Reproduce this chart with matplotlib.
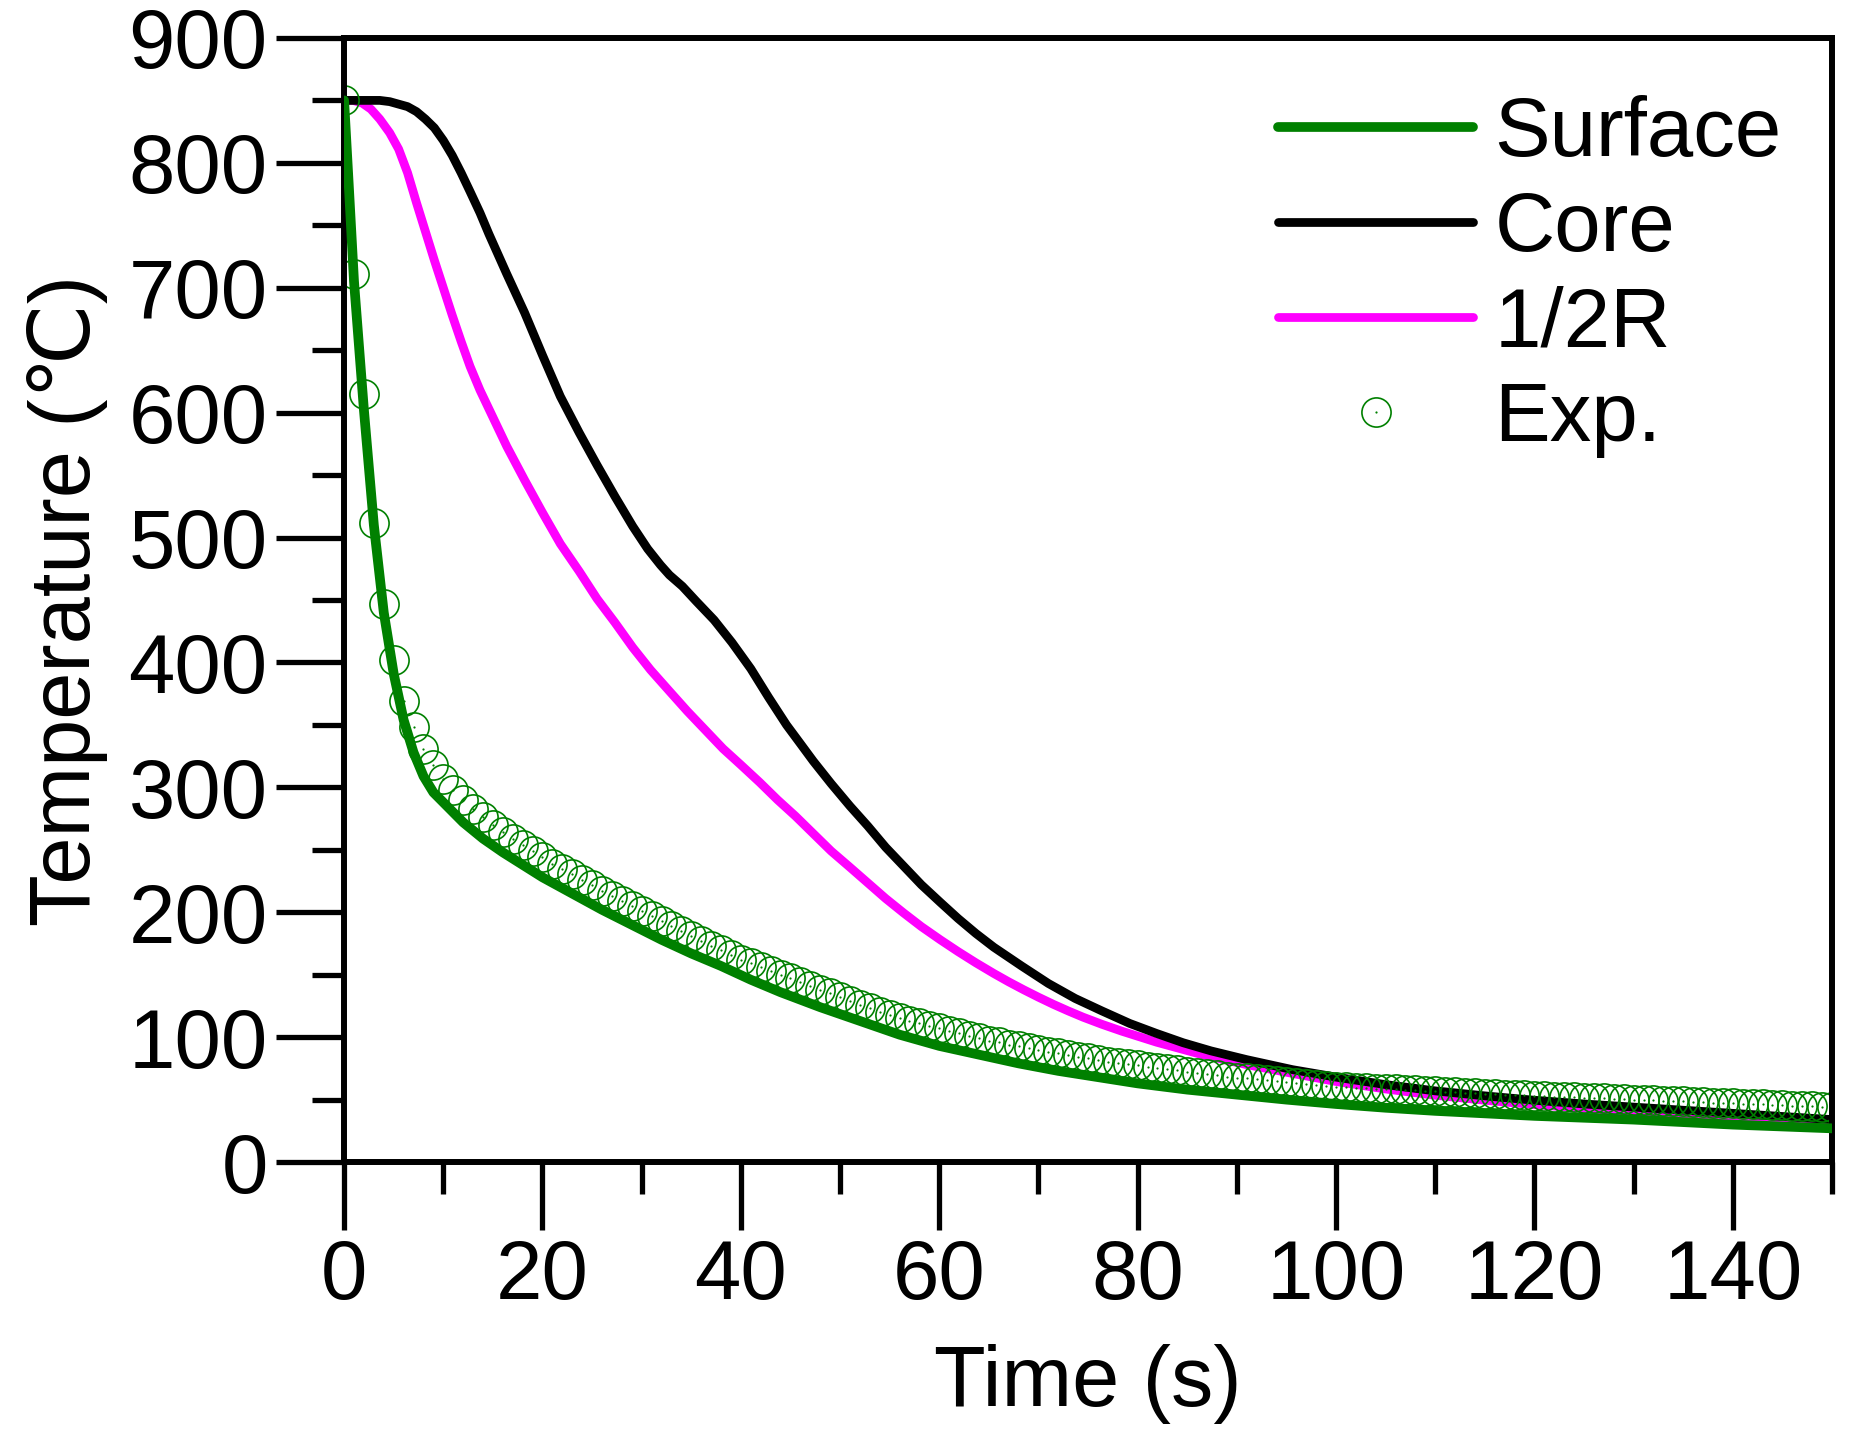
import numpy as np
import matplotlib
matplotlib.use("Agg")
import matplotlib.pyplot as plt
from matplotlib.ticker import MultipleLocator

plt.rcParams['font.family'] = ['Liberation Sans', 'DejaVu Sans']

# ---------------- data ----------------
surface_t = [0, 0.5, 1, 2, 3, 4, 5, 6, 7, 8, 9, 10, 12, 14, 16, 18, 20, 23, 26, 29, 32,
             35, 38, 41, 44, 48, 52, 56, 60, 64, 68, 72, 76, 80, 85, 90, 95, 100, 105,
             110, 115, 120, 125, 130, 135, 140, 145, 150]
surface_T = [850, 778, 705, 602, 510, 440, 391, 354, 328, 309, 296, 288, 272, 259, 248,
             238, 228, 215, 202, 190, 178, 167, 157, 146, 136, 124, 113, 102, 93, 86,
             79, 73, 68, 63, 58, 54, 50, 46.5, 43.5, 41, 39, 37, 35.5, 34, 32, 30, 28.5, 27]

core_t = [0, 1.8, 3.6, 4.6, 5.5, 6.4, 7.3, 8.2, 9.1, 10, 10.9, 11.8, 12.7, 13.7, 14.6,
          15.5, 16.4, 18.2, 20, 21.8, 23.7, 25.5, 27.3, 29.1, 30.6, 31.9, 32.8, 34.1,
          35.5, 37.3, 39.1, 41, 42.8, 44.6, 46, 47.3, 49.1, 51, 52.8, 54.6, 56.4, 58.2,
          60.1, 61.9, 63.7, 65.5, 68.3, 71, 73.7, 76.4, 79.2, 81.9, 84.6, 87.4, 91, 95.6,
          100, 105, 110, 115, 120, 125, 130, 135, 140, 145, 150]
core_T = [850, 850, 850, 849, 847, 845, 841, 835, 828, 818, 806, 792, 777, 760, 743, 727,
          711, 680, 646, 613, 584, 558, 533, 509, 491, 478, 470, 461, 449, 434, 416, 395,
          372, 350, 335, 321, 303, 285, 269, 252, 237, 222, 208, 195, 183, 172, 157, 143,
          131, 121, 111, 103, 95.5, 89, 82, 74, 68, 62, 57, 53, 49.5, 46.5, 44, 41.5, 39,
          36.5, 34]

half_t = [0, 0.9, 1.8, 2.7, 3.6, 4.6, 5.5, 6.4, 7.3, 8.2, 9.1, 10, 10.9, 11.8, 12.7, 13.7,
          14.6, 16.4, 18.2, 20, 21.8, 23.7, 25.5, 27.3, 29.1, 30.9, 32.8, 34.6, 36.4,
          38.2, 40, 41.9, 43.7, 45.5, 47.3, 49.1, 51, 52.8, 54.6, 56.4, 58.2, 60.1, 61.9,
          63.7, 65.5, 67, 68.5, 70, 71.5, 73, 74.5, 76.4, 78.4, 81.9, 86.5, 91, 95.6, 100,
          105, 110, 115, 120, 125, 130, 135, 140, 145, 150]
half_T = [850, 850, 848, 843, 835, 824, 811, 792, 768, 745, 722, 700, 678, 657, 637, 618,
          603, 573, 546, 520, 495, 473, 451, 432, 412, 394, 377, 361, 346, 331, 318, 304,
          290, 277, 263, 249, 236, 223.5, 211, 199.5, 188.5, 178, 168.5, 159.5, 151, 144.3,
          138, 132, 126.3, 121, 116, 110.3, 104.8, 96, 86, 78, 71, 64.5, 58.5, 53.5, 49.5,
          46, 43, 40, 37.5, 35, 32.5, 30]

exp_t = np.arange(0, 151)          # experimental record, one reading per second
exp_T = [850, 711, 615, 512, 447, 402, 369, 348, 331, 318,
         307, 298, 290, 283, 276, 270, 264, 259, 254, 249,
         244, 239, 235, 231, 226, 222, 217, 213, 209, 205,
         201, 197, 193, 189, 185, 181, 177, 173, 170, 166,
         162, 159, 156, 153, 150, 147, 144, 141, 138, 135,
         132, 129, 126, 123, 120, 118, 115, 113, 111, 109,
         107, 105, 103, 101, 99, 97, 96, 94, 93, 91,
         90, 88, 87, 85.5, 84, 83, 82, 80.5, 79.5, 78.5,
         77.5, 76.5, 75.5, 74.5, 73.5, 72.5, 71.5, 70.5, 69.5, 68.5,
         67.7, 67, 66.2, 65.5, 64.7, 64, 63.3, 62.6, 61.9, 61.2,
         60.5, 60.1, 59.7, 59.3, 58.9, 58.5, 58.1, 57.7, 57.3, 56.9,
         56.5, 56.1, 55.8, 55.4, 55.1, 54.7, 54.4, 54.0, 53.7, 53.3,
         53.0, 52.7, 52.4, 52.1, 51.8, 51.5, 51.2, 50.9, 50.6, 50.3,
         50.0, 49.7, 49.4, 49.1, 48.8, 48.5, 48.2, 47.9, 47.6, 47.3,
         47.0, 46.7, 46.4, 46.1, 45.8, 45.5, 45.2, 44.9, 44.6, 44.3, 44.0]

x_ticks = [0, 20, 40, 60, 80, 100, 120, 140]
y_ticks = [0, 100, 200, 300, 400, 500, 600, 700, 800, 900]

# ---------------- figure ----------------
fig = plt.figure(figsize=(18.65, 14.32), dpi=100)
ax = fig.add_axes([0.1845, 0.1885, 0.7978, 0.7850])

GREEN = '#008000'

l_half, = ax.plot(half_t, half_T, color='#FF00FF', lw=6.3, zorder=2,
                  solid_capstyle='round', solid_joinstyle='round')
l_core, = ax.plot(core_t, core_T, color='black', lw=6.3, zorder=2.2,
                  solid_capstyle='round', solid_joinstyle='round')
l_exp, = ax.plot(exp_t, exp_T, linestyle='none', marker='o', ms=21,
                 mfc='none', mec=GREEN, mew=1.2, zorder=2.5)
l_dot, = ax.plot(exp_t, exp_T, linestyle='none', marker='o', ms=1.6,
                 mfc=GREEN, mec=GREEN, mew=0, zorder=2.5)
l_surf, = ax.plot(surface_t, surface_T, color=GREEN, lw=7.0, zorder=3,
                  solid_capstyle='round', solid_joinstyle='round')

ax.set_xlim(0, 150)
ax.set_ylim(0, 900)
ax.set_xticks(x_ticks)
ax.set_yticks(y_ticks)
ax.xaxis.set_minor_locator(MultipleLocator(10))
ax.yaxis.set_minor_locator(MultipleLocator(50))

for s in ax.spines.values():
    s.set_linewidth(4.3)
ax.tick_params(axis='both', which='major', direction='out', length=49, width=3.8,
               labelsize=60, pad=6, top=False, right=False)
ax.tick_params(axis='both', which='minor', direction='out', length=23, width=3.8,
               top=False, right=False)

ax.set_xlabel('Time (s)', fontsize=61)
ax.set_ylabel('Temperature (℃)', fontsize=61)
ax.xaxis.set_label_coords(0.5, -0.162)
ax.yaxis.set_label_coords(-0.159, 0.5)

leg = ax.legend([l_surf, l_core, l_half, (l_exp, l_dot)],
                ['Surface', 'Core', '1/2R', 'Exp.'],
                loc='upper left', bbox_to_anchor=(0.6855, 0.9337),
                bbox_transform=fig.transFigure, frameon=False, fontsize=60,
                handlelength=2.33, handletextpad=0.26, labelspacing=0.205,
                borderpad=0, borderaxespad=0)

fig.savefig('out.png', dpi=100)
